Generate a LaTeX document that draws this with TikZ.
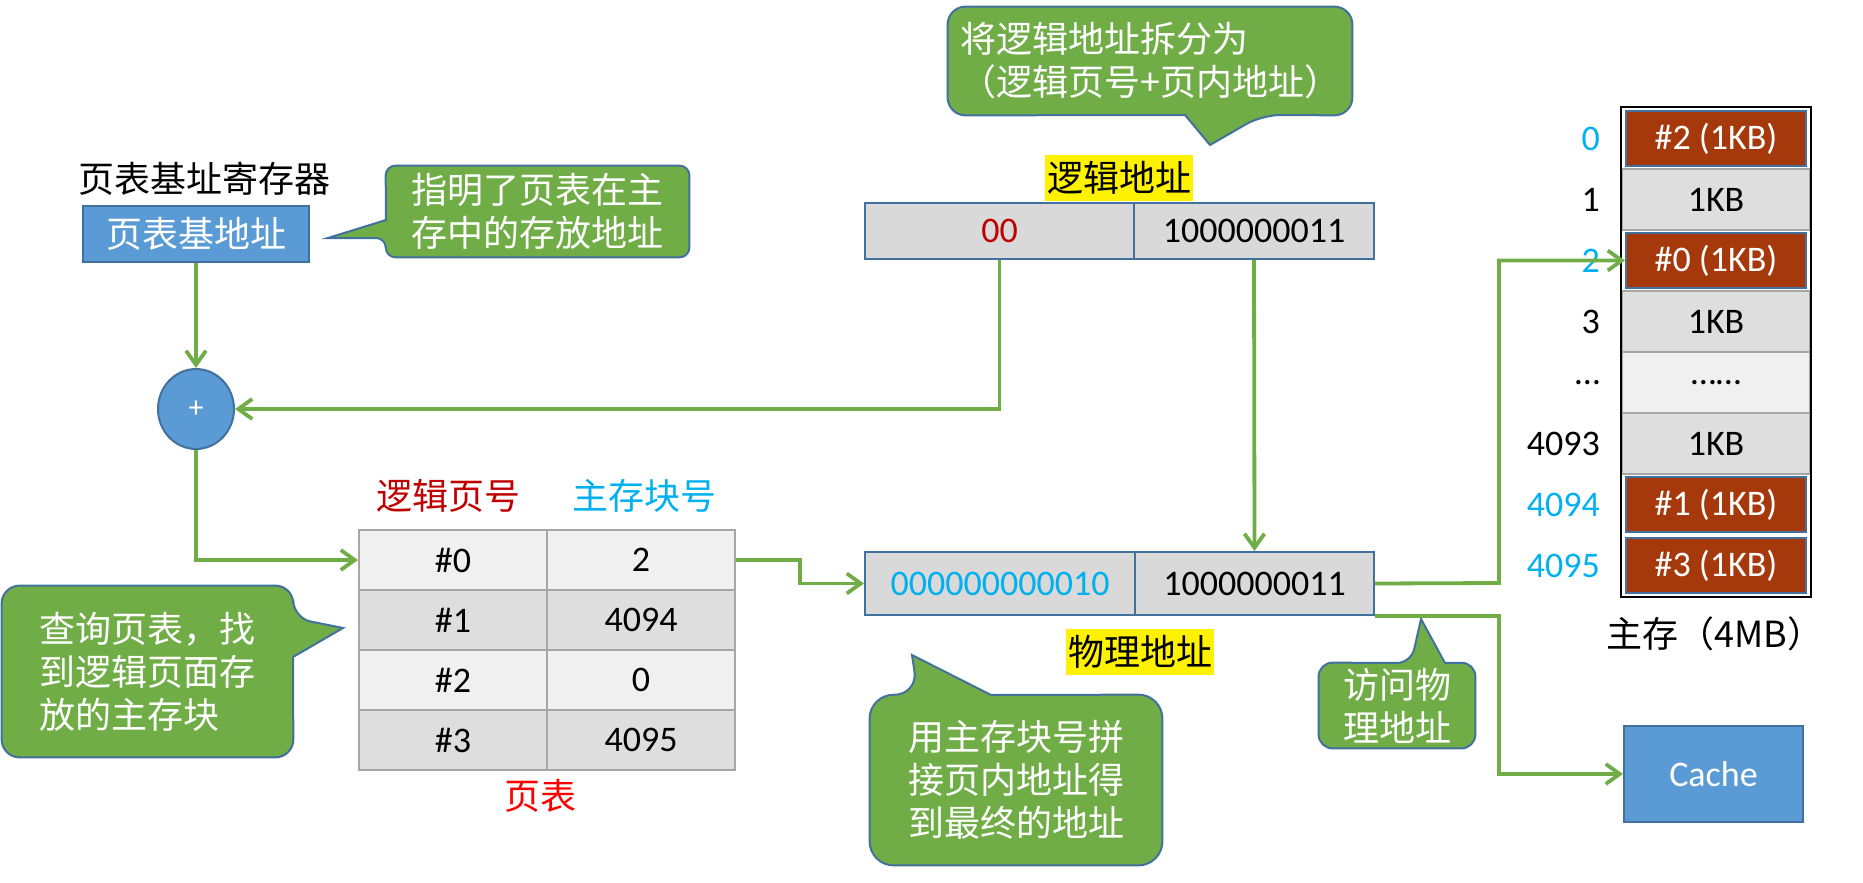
\documentclass[tikz,border=0pt]{standalone}
\usepackage{fontspec}
\setmainfont{Carlito}
\newfontfamily\cjk{Noto Sans CJK SC}
\usetikzlibrary{arrows.meta,shapes.geometric,backgrounds}
\definecolor{notegreen}{HTML}{70AD47}
\definecolor{edgeblue}{HTML}{41719C}
\definecolor{boxblue}{HTML}{5B9BD5}
\definecolor{cellgray}{HTML}{D9D9D9}
\definecolor{ptlite}{HTML}{F0F0F0}
\definecolor{ptdeep}{HTML}{DEDEDE}
\definecolor{gridgray}{HTML}{A6A6A6}
\definecolor{hotred}{HTML}{A5390B}
\definecolor{skyblue}{HTML}{00B0F0}
\definecolor{darkred}{HTML}{C00000}

\tikzset{
  addrcell/.style={draw=edgeblue, line width=1pt, fill=cellgray, minimum height=28pt, inner sep=0pt},
  ptcell/.style={draw=gridgray, line width=1pt, minimum width=94pt, minimum height=30pt, inner sep=0pt},
  ptlight/.style={fill=ptlite},
  ptdark/.style={fill=ptdeep},
  memcell/.style={draw=gridgray, line width=1pt, fill=ptdeep, minimum width=94pt, minimum height=30.5pt, inner sep=0pt},
  memdots/.style={memcell, fill=ptlite},
  memhot/.style={draw=edgeblue, line width=1pt, fill=hotred, text=white, minimum width=90pt, minimum height=27.5pt, inner sep=0pt},
  bluebox/.style={draw=edgeblue, line width=1pt, fill=boxblue, text=white, inner sep=0pt},
  hilite/.style={fill=yellow, inner xsep=1pt, inner ysep=0pt, minimum height=23pt},
  notetext/.style={text=white, align=left, inner sep=0pt, font=\cjk\fontsize{18}{21.5}\selectfont},
  notebg/.style={fill=notegreen, draw=edgeblue, line width=1pt},
  flow/.style={draw=notegreen, line width=1.9pt, -{Straight Barb[length=7pt,width=10pt]}}
}

\begin{document}
\begin{tikzpicture}[x=0.5pt,y=-0.5pt,font=\fontsize{18}{21.5}\selectfont]
  \useasboundingbox (0,0) rectangle (1863,883);

  % page table base register
  \node (reglabel) at (204,179) {\cjk 页表基址寄存器};
  \node[bluebox, minimum width=113pt, minimum height=28pt] (ptbr) at (196,234) {\cjk 页表基地址};
  \node[bluebox, ellipse, minimum width=38pt, minimum height=40pt, font=\fontsize{15}{17}\selectfont] (add) at (196,409) {+};

  % logical address
  \node[hilite] (lglabel) at (1119,178) {\cjk 逻辑地址};
  \node[addrcell, minimum width=134.5pt, text=darkred] (lg0) at (999.5,231) {00};
  \node[addrcell, minimum width=120pt] (lg1) at (1254,231) {1000000011};

  % physical address
  \node[addrcell, minimum width=135pt, minimum height=31.5pt, text=skyblue] (ph0) at (1000,583.5) {000000000010};
  \node[addrcell, minimum width=119.5pt, minimum height=31.5pt] (ph1) at (1254.5,583.5) {1000000011};
  \node[hilite] (phlabel) at (1140,651.5) {\cjk 物理地址};

  % page table
  \node[text=darkred] (colpage) at (448,496) {\cjk 逻辑页号};
  \node[text=skyblue] (colblock) at (644,496) {\cjk 主存块号};
  \foreach \r/\blk/\shade in {0/2/ptlight,1/4094/ptdark,2/0/ptlight,3/4095/ptdark}{
    \node[ptcell,\shade] (pl\r) at (453,{560+60*\r}) {\#\r};
    \node[ptcell,\shade] (pr\r) at (641,{560+60*\r}) {\blk};
  }
  \node[text=red] (ptname) at (540,796) {\cjk 页表};

  % main memory
  \foreach \i/\lab/\lc/\txt/\kind in {0/0/skyblue/{\#2 (1KB)}/memhot,
      1/1/black/1KB/memcell, 2/2/skyblue/{\#0 (1KB)}/memhot,
      3/3/black/1KB/memcell, 4/\textellipsis/black/\textellipsis\textellipsis/memdots,
      5/4093/black/1KB/memcell, 6/4094/skyblue/{\#1 (1KB)}/memhot,
      7/4095/skyblue/{\#3 (1KB)}/memhot}{
    \node[\kind] (m\i) at (1716,{138.5+61*\i}) {\txt};
    \node[anchor=east, text=\lc] (lab\i) at (1607,{138.5+61*\i}) {\lab};
  }
  \draw[line width=1pt] ([yshift=30.5pt]m1.north west) rectangle ([yshift=-61pt]m5.south east);
  \node (memname) at (1715,634) {\cjk 主存（4MB）};
  \node[bluebox, minimum width=89.5pt, minimum height=48pt] (cache) at (1713.5,774) {Cache};

  % callouts
  \node[notetext, minimum width=151.5pt, minimum height=45.5pt] (n1) at (537.5,211.5) {指明了页表在主\\存中的存放地址};
  \node[notetext, minimum width=202pt, minimum height=54pt] (n2) at (1150,61) {将逻辑地址拆分为\\（逻辑页号+页内地址）};
  \node[notetext, minimum width=145.5pt, minimum height=85.5pt] (n3) at (147.5,671.5) {查询页表，找\\到逻辑页面存\\放的主存块};
  \node[notetext, minimum width=146pt, minimum height=85pt] (n4) at (1016,780) {用主存块号拼\\接页内地址得\\到最终的地址};
  \node[notetext, minimum width=78pt, minimum height=42.5pt] (n5) at (1397,705.5) {访问物\\理地址};
  \begin{scope}[on background layer]
    \draw[notebg, rounded corners=5pt] (n1.north) -- (n1.north east) -- (n1.south east) -- (n1.south west)
      -- (386,238) [sharp corners] -- (328,238) -- (386,220) [rounded corners=5pt] -- (n1.north west) -- cycle;
    \draw[notebg, rounded corners=9pt] (n2.north) -- (n2.north east) -- (n2.south east)
      -- (1262,115) [sharp corners] -- (1210,145) -- (1185,115) [rounded corners=9pt] -- (n2.south west) -- (n2.north west) -- cycle;
    \draw[notebg, rounded corners=9pt] (n3.north) -- (n3.north east)
      -- (293,618) [sharp corners] -- (343,628) -- (293,657) [rounded corners=9pt] -- (n3.south east) -- (n3.south west) -- (n3.north west) -- cycle;
    \draw[notebg, rounded corners=12pt] (n4.east) -- (n4.south east) -- (n4.south west) -- (n4.north west)
      -- (918,695) [sharp corners] -- (912,655) -- (991,695) [rounded corners=12pt] -- (n4.north east) -- cycle;
    \draw[notebg, rounded corners=7pt] (n5.east) -- (n5.south east) -- (n5.south west) -- (n5.north west)
      -- (1411,663) [sharp corners] -- (1421,619) -- (1445,663) [rounded corners=7pt] -- (n5.north east) -- cycle;
  \end{scope}

  % connectors
  \draw[flow] (ptbr.south) -- (add.north);
  \draw[flow] (lg0.south) |- (add.east);
  \draw[flow] (lg1.south) -- (ph1.north);
  \draw[flow] (add.south) |- (pl0.west);
  \draw[flow] (pr0.east) -- ++(64,0) |- (ph0.west);
  \coordinate (bus) at (1499,583);
  \draw[flow] (ph1.east) -- (bus) |- (m2.west);
  \draw[flow] (ph1.south east) -- (ph1.south east -| bus) |- (cache.west);
\end{tikzpicture}
\end{document}
